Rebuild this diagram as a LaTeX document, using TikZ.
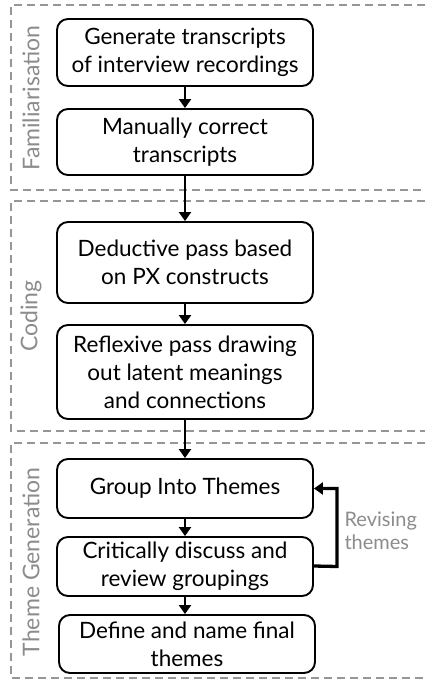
\documentclass[tikz,border=0pt]{standalone}
\usepackage{fontspec}
\setmainfont{Lato}
\usetikzlibrary{arrows.meta}
\definecolor{framegray}{RGB}{150,150,150}
\definecolor{labelgray}{RGB}{140,140,140}
\tikzset{
  stepbox/.style={draw=black, line width=1.9pt, rounded corners=11pt, align=center,
    minimum width=256pt, inner sep=0pt, font=\fontsize{22.5}{28}\selectfont},
  frame/.style={draw=framegray, line width=1.5pt, dash pattern=on 8pt off 5pt},
  phase/.style={rotate=90, text=labelgray, font=\fontsize{23}{26}\selectfont},
  flow/.style={line width=2.9pt, -{Triangle[width=12pt,length=9pt]}},
}
\begin{document}
\begin{tikzpicture}[x=1pt,y=-1pt]
\useasboundingbox (0,0) rectangle (425,680);
\fill[white] (0,0) rectangle (425,680);
% frames
\draw[frame] (425,5) -- (11,5) -- (11,190) -- (425,190);
\draw[frame] (425,201) -- (11,201) -- (11,431) -- (425,431);
\draw[frame] (425,443) -- (11,443) -- (11,678) -- (425,678);
% phase labels
\node[phase] (lf) at (31,98) {Familiarisation};
\node[phase] (lc) at (31,316) {Coding};
\node[phase] (lt) at (31,562) {Theme Generation};
% boxes
\node[stepbox, minimum height=67pt] (b1) at (185,52.5) {Generate transcripts\\of interview recordings};
\node[stepbox, minimum height=66pt] (b2) at (185,142) {Manually correct\\transcripts};
\node[stepbox, minimum height=81pt] (b3) at (185,262.5) {Deductive pass based\\on PX constructs};
\node[stepbox, minimum height=94pt] (b4) at (185,372) {Reflexive pass drawing\\out latent meanings\\and connections};
\node[stepbox, minimum height=59pt] (b5) at (185,488.5) {Group Into Themes};
\node[stepbox, minimum height=59pt] (b6) at (185,566.5) {Critically discuss and\\review groupings};
\node[stepbox, minimum height=58pt] (b7) at (187,644) {Define and name final\\themes};
% arrows
\draw[flow] (b1.south) -- (b2.north);
\draw[flow] (b2.south) -- (b3.north);
\draw[flow] (b3.south) -- (b4.north);
\draw[flow] (b4.south) -- (b5.north);
\draw[flow] (b5.south) -- (b6.north);
\draw[flow] (b6.south) -- (b7.north -| b6.south);
\coordinate (fb) at (337,0);
\draw[flow, line width=3.3pt] ([yshift=0.5pt]b6.east) -- (b6.east -| fb) -- (b5.east -| fb) -- (b5.east);
\node[text=labelgray, font=\fontsize{20}{23}\selectfont, align=left, anchor=west] (rev) at (341,531) {Revising\\themes};
\end{tikzpicture}
\end{document}
